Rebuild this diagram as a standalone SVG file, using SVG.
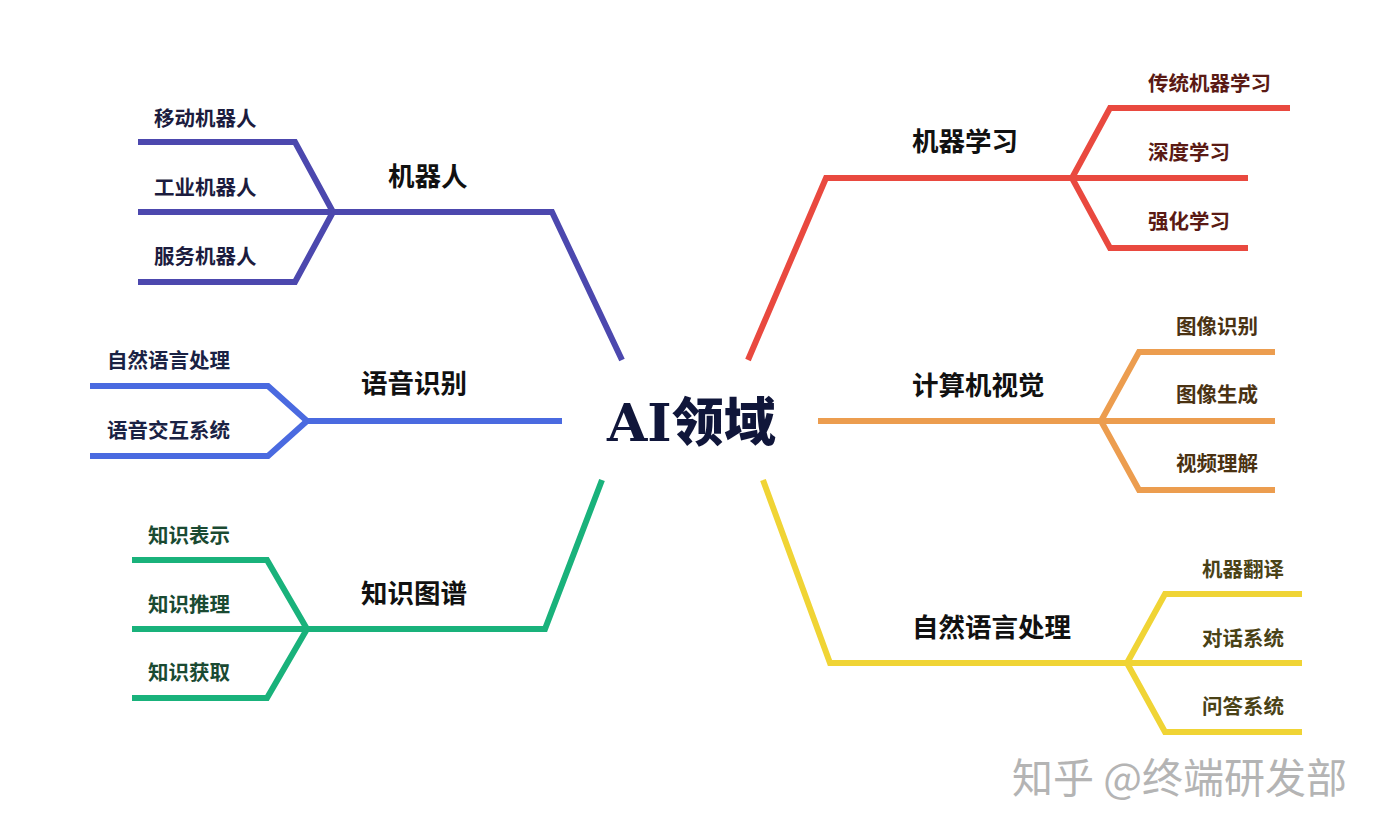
<svg xmlns="http://www.w3.org/2000/svg" width="1384" height="835" viewBox="0 0 1384 835">
<style>
.ln{fill:none;stroke-width:6;stroke-linejoin:miter;stroke-linecap:butt}
.sub{font-family:"Noto Sans CJK SC","Noto Sans",sans-serif;font-weight:700;font-size:20.5px}
.br{font-family:"Noto Sans CJK SC","Noto Sans",sans-serif;font-weight:700;font-size:26.5px;fill:#111}
</style>
<rect width="1384" height="835" fill="#fff"/>
<g id="connectors">
<polyline class="ln" stroke="#4c48ae" points="622,360 552,212 333,212"/>
<polyline class="ln" stroke="#4c48ae" points="333,212 295,142 138,142"/>
<polyline class="ln" stroke="#4c48ae" points="333,212 138,212"/>
<polyline class="ln" stroke="#4c48ae" points="333,212 295,282 138,282"/>
<polyline class="ln" stroke="#4a6ae0" points="562,421 307,421"/>
<polyline class="ln" stroke="#4a6ae0" points="307,421 268,386 90,386"/>
<polyline class="ln" stroke="#4a6ae0" points="307,421 268,456 90,456"/>
<polyline class="ln" stroke="#19b27b" points="602,480 545,629 307,629"/>
<polyline class="ln" stroke="#19b27b" points="307,629 267,560 132,560"/>
<polyline class="ln" stroke="#19b27b" points="307,629 132,629"/>
<polyline class="ln" stroke="#19b27b" points="307,629 267,698 132,698"/>
<polyline class="ln" stroke="#e9493f" points="748,360 826,178 1072,178"/>
<polyline class="ln" stroke="#e9493f" points="1072,178 1110,108 1290,108"/>
<polyline class="ln" stroke="#e9493f" points="1072,178 1248,178"/>
<polyline class="ln" stroke="#e9493f" points="1072,178 1110,248 1248,248"/>
<polyline class="ln" stroke="#ec9d4f" points="818,421 1101,421"/>
<polyline class="ln" stroke="#ec9d4f" points="1101,421 1139,352 1275,352"/>
<polyline class="ln" stroke="#ec9d4f" points="1101,421 1275,421"/>
<polyline class="ln" stroke="#ec9d4f" points="1101,421 1139,490 1275,490"/>
<polyline class="ln" stroke="#f0d435" points="763,480 830,663 1127,663"/>
<polyline class="ln" stroke="#f0d435" points="1127,663 1165,594 1302,594"/>
<polyline class="ln" stroke="#f0d435" points="1127,663 1302,663"/>
<polyline class="ln" stroke="#f0d435" points="1127,663 1165,732 1302,732"/>
</g>
<g id="center">
<text x="607" y="441" fill="#10163a" font-size="52" font-weight="900"><tspan font-family="DejaVu Serif,Liberation Serif,serif" font-weight="700">AI</tspan><tspan font-family="Noto Sans CJK SC,sans-serif" font-weight="900">领域</tspan></text>
</g>
<g id="robot">
<text class="br" x="388" y="186">机器人</text>
<text class="sub" fill="#1c1c3e" x="154" y="126">移动机器人</text>
<text class="sub" fill="#1c1c3e" x="154" y="195">工业机器人</text>
<text class="sub" fill="#1c1c3e" x="154" y="264">服务机器人</text>
</g>
<g id="speech">
<text class="br" x="361" y="393">语音识别</text>
<text class="sub" fill="#1a2244" x="107" y="368">自然语言处理</text>
<text class="sub" fill="#1a2244" x="107" y="438">语音交互系统</text>
</g>
<g id="kg">
<text class="br" x="361" y="603">知识图谱</text>
<text class="sub" fill="#1a4a32" x="148" y="543">知识表示</text>
<text class="sub" fill="#1a4a32" x="148" y="612">知识推理</text>
<text class="sub" fill="#1a4a32" x="148" y="680">知识获取</text>
</g>
<g id="ml">
<text class="br" x="912" y="151">机器学习</text>
<text class="sub" fill="#5a1a14" x="1148" y="91">传统机器学习</text>
<text class="sub" fill="#5a1a14" x="1148" y="160">深度学习</text>
<text class="sub" fill="#5a1a14" x="1148" y="229">强化学习</text>
</g>
<g id="cv">
<text class="br" x="912" y="395">计算机视觉</text>
<text class="sub" fill="#4a3212" x="1176" y="334">图像识别</text>
<text class="sub" fill="#4a3212" x="1176" y="402">图像生成</text>
<text class="sub" fill="#4a3212" x="1176" y="471">视频理解</text>
</g>
<g id="nlp">
<text class="br" x="912" y="637">自然语言处理</text>
<text class="sub" fill="#4a4216" x="1202" y="577">机器翻译</text>
<text class="sub" fill="#4a4216" x="1202" y="646">对话系统</text>
<text class="sub" fill="#4a4216" x="1202" y="714">问答系统</text>
</g>
<g id="watermark">
<text x="1012" y="793" font-family="Noto Sans CJK SC,sans-serif" font-size="41" fill="#b4b4b4">知乎 @终端研发部</text>
</g>
</svg>
